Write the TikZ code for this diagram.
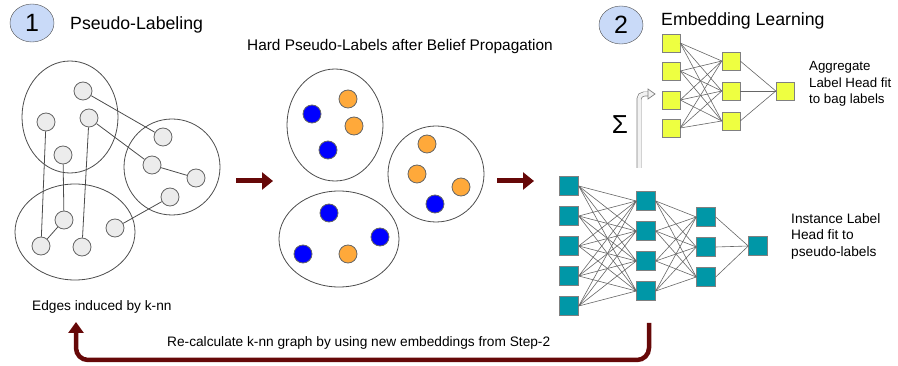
\documentclass[tikz,border=0pt]{standalone}
\usepackage{fontspec}
\setmainfont{Liberation Sans}
\usetikzlibrary{arrows.meta,calc,shapes.geometric}

\definecolor{stepblue}{RGB}{201,218,248}
\definecolor{dotblue}{RGB}{0,0,255}
\definecolor{dotorange}{RGB}{255,169,58}
\definecolor{unityellow}{RGB}{238,255,65}
\definecolor{unitteal}{RGB}{0,151,167}
\definecolor{arrowred}{RGB}{102,8,8}

\begin{document}
\begin{tikzpicture}[
    x=1pt, y=-1pt,
    >=Stealth,
    stepbadge/.style={ellipse,draw=black!70,fill=stepblue,minimum width=44pt,minimum height=38pt,inner sep=0pt,font=\fontsize{25}{29}\selectfont},
    title text/.style={anchor=west,inner sep=0pt,font=\fontsize{17.7}{21}\selectfont},
    note text/.style={inner sep=0pt,font=\fontsize{13.7}{16.5}\selectfont,align=left},
    bag/.style={ellipse,draw=black!70,line width=0.8pt,inner sep=0pt},
    graph node/.style={circle,draw=black!60,fill=gray!15,line width=0.8pt,minimum size=18pt,inner sep=0pt},
    blue dot/.style={graph node,fill=dotblue},
    orange dot/.style={graph node,fill=dotorange},
    knn edge/.style={black!70,line width=0.8pt},
    yellow unit/.style={draw=black!50,fill=unityellow,minimum size=18pt,inner sep=0pt},
    teal unit/.style={draw=black!50,fill=unitteal,minimum size=19pt,inner sep=0pt},
    net edge/.style={black!60,line width=0.6pt},
    block arrow/.style={arrowred,line width=5pt,-{Triangle[length=11pt,width=17pt]}},
    loop arrow/.style={arrowred,line width=4.5pt,rounded corners=12pt,-{Triangle[length=11pt,width=15pt]}},
    sum arrow/.style={draw=gray,double=gray!10,double distance=3.5pt,line width=0.7pt,rounded corners=5pt}
]
\useasboundingbox (0,0) rectangle (898,366);

% Schritt 1: Pseudo-Labels
\node[stepbadge] (stepone) at (32,23) {1};
\node[title text] (steponetitle) at (70,25) {Pseudo-Labeling};

% Bags mit k-nn Graph
\node[bag,minimum width=96pt,minimum height=112pt] (bag1) at (70,117) {};
\node[bag,minimum width=96pt,minimum height=96pt] (bag2) at (172,167) {};
\node[bag,minimum width=120pt,minimum height=96pt] (bag3) at (75,232) {};

\foreach \name/\x/\y in {g1/83/91, g2/46/122, g3/89/118, g4/63/155, g5/163/137, g6/152/165,
    g7/196/178, g8/170/197, g9/64/220, g10/41/246, g11/82/247, g12/115/228}
    \node[graph node] (\name) at (\x,\y) {};

\foreach \u/\v in {g1/g5, g3/g6, g6/g7, g8/g12, g2/g10, g4/g9, g3/g11, g9/g10}
    \draw[knn edge] (\u) -- (\v);

\node[note text,anchor=west] (knnnote) at (32,307) {Edges induced by k-nn};

% Pfeil zu den harten Labels
\coordinate (arrAs) at (236,181);
\coordinate (arrAe) at (273,181);
\draw[block arrow] (arrAs) -- (arrAe);

% Harte Pseudo-Labels nach Belief Propagation
\node[note text,font=\fontsize{15.4}{18}\selectfont] (hardnote) at (400,47) {Hard Pseudo-Labels after Belief Propagation};

\node[bag,minimum width=96pt,minimum height=112pt] (hbag1) at (335,125) {};
\node[bag,minimum width=96pt,minimum height=96pt] (hbag2) at (436,174) {};
\node[bag,minimum width=120pt,minimum height=96pt] (hbag3) at (339,239) {};

\foreach \x/\y in {312/114, 328/150, 435/204, 329/213, 380/237, 303/254}
    \node[blue dot] at (\x,\y) {};
\foreach \x/\y in {348/99, 354/126, 427/144, 417/174, 461/187, 348/254}
    \node[orange dot] at (\x,\y) {};

% Pfeil zum Netz
\coordinate (arrBs) at (497,181);
\coordinate (arrBe) at (534,181);
\draw[block arrow] (arrBs) -- (arrBe);

% Schritt 2: Embedding Learning
\node[stepbadge] (steptwo) at (621,25) {2};
\node[title text] (steptwotitle) at (661,21) {Embedding Learning};

% Aggregat-Kopf (gelb)
\foreach \y [count=\i] in {43,71,100,128}
    \node[yellow unit] (ya\i) at (671,\y) {};
\foreach \y [count=\i] in {61,91,121}
    \node[yellow unit] (yb\i) at (731,\y) {};
\node[yellow unit] (yc1) at (785,91) {};

\foreach \i in {1,...,4}
    \foreach \j in {1,...,3}
        \draw[net edge] (ya\i.east) -- (yb\j.west);
\foreach \j in {1,...,3}
    \draw[net edge] (yb\j.east) -- (yc1.west);

\node[note text,anchor=west,font=\fontsize{13.3}{16.5}\selectfont] (aggnote) at (809,84) {Aggregate\\Label Head fit\\to bag labels};

% Summe ueber die Bag
\node[inner sep=0pt,font=\fontsize{26}{30}\selectfont] (sumsign) at (620,125) {Σ};
\coordinate (sumfrom) at (639,168);
\coordinate (sumto) at (648,94);
\draw[sum arrow] (sumfrom) |- (sumto);
\draw[draw=gray,fill=gray!10,line width=0.7pt] ($(sumto)+(0,-5)$) -- ($(sumto)+(7,0)$) -- ($(sumto)+(0,5)$) -- cycle;

% Instanz-Kopf (tuerkis)
\foreach \y [count=\i] in {186,216,246,276,306}
    \node[teal unit] (ta\i) at (569,\y) {};
\foreach \y [count=\i] in {201,231,261,291}
    \node[teal unit] (tb\i) at (646,\y) {};
\foreach \y [count=\i] in {217,247,277}
    \node[teal unit] (tc\i) at (706,\y) {};
\node[teal unit] (td1) at (758,246) {};

\foreach \i in {1,...,5}
    \foreach \j in {1,...,4}
        \draw[net edge] (ta\i.east) -- (tb\j.west);
\foreach \i in {1,...,4}
    \foreach \j in {1,...,3}
        \draw[net edge] (tb\i.east) -- (tc\j.west);
\foreach \j in {1,...,3}
    \draw[net edge] (tc\j.east) -- (td1.west);

\node[note text,anchor=west] (instnote) at (791,236) {Instance Label\\Head fit to\\pseudo-labels};

% Rueckkopplung: k-nn Graph neu berechnen
\coordinate (loopstart) at (649,323);
\coordinate (loopend) at (76,322);
\draw[loop arrow] (loopstart) |- (360,360) -| (loopend);
\node[note text,anchor=west] (loopnote) at (167,343) {Re-calculate k-nn graph by using new embeddings from Step-2};

\end{tikzpicture}
\end{document}
